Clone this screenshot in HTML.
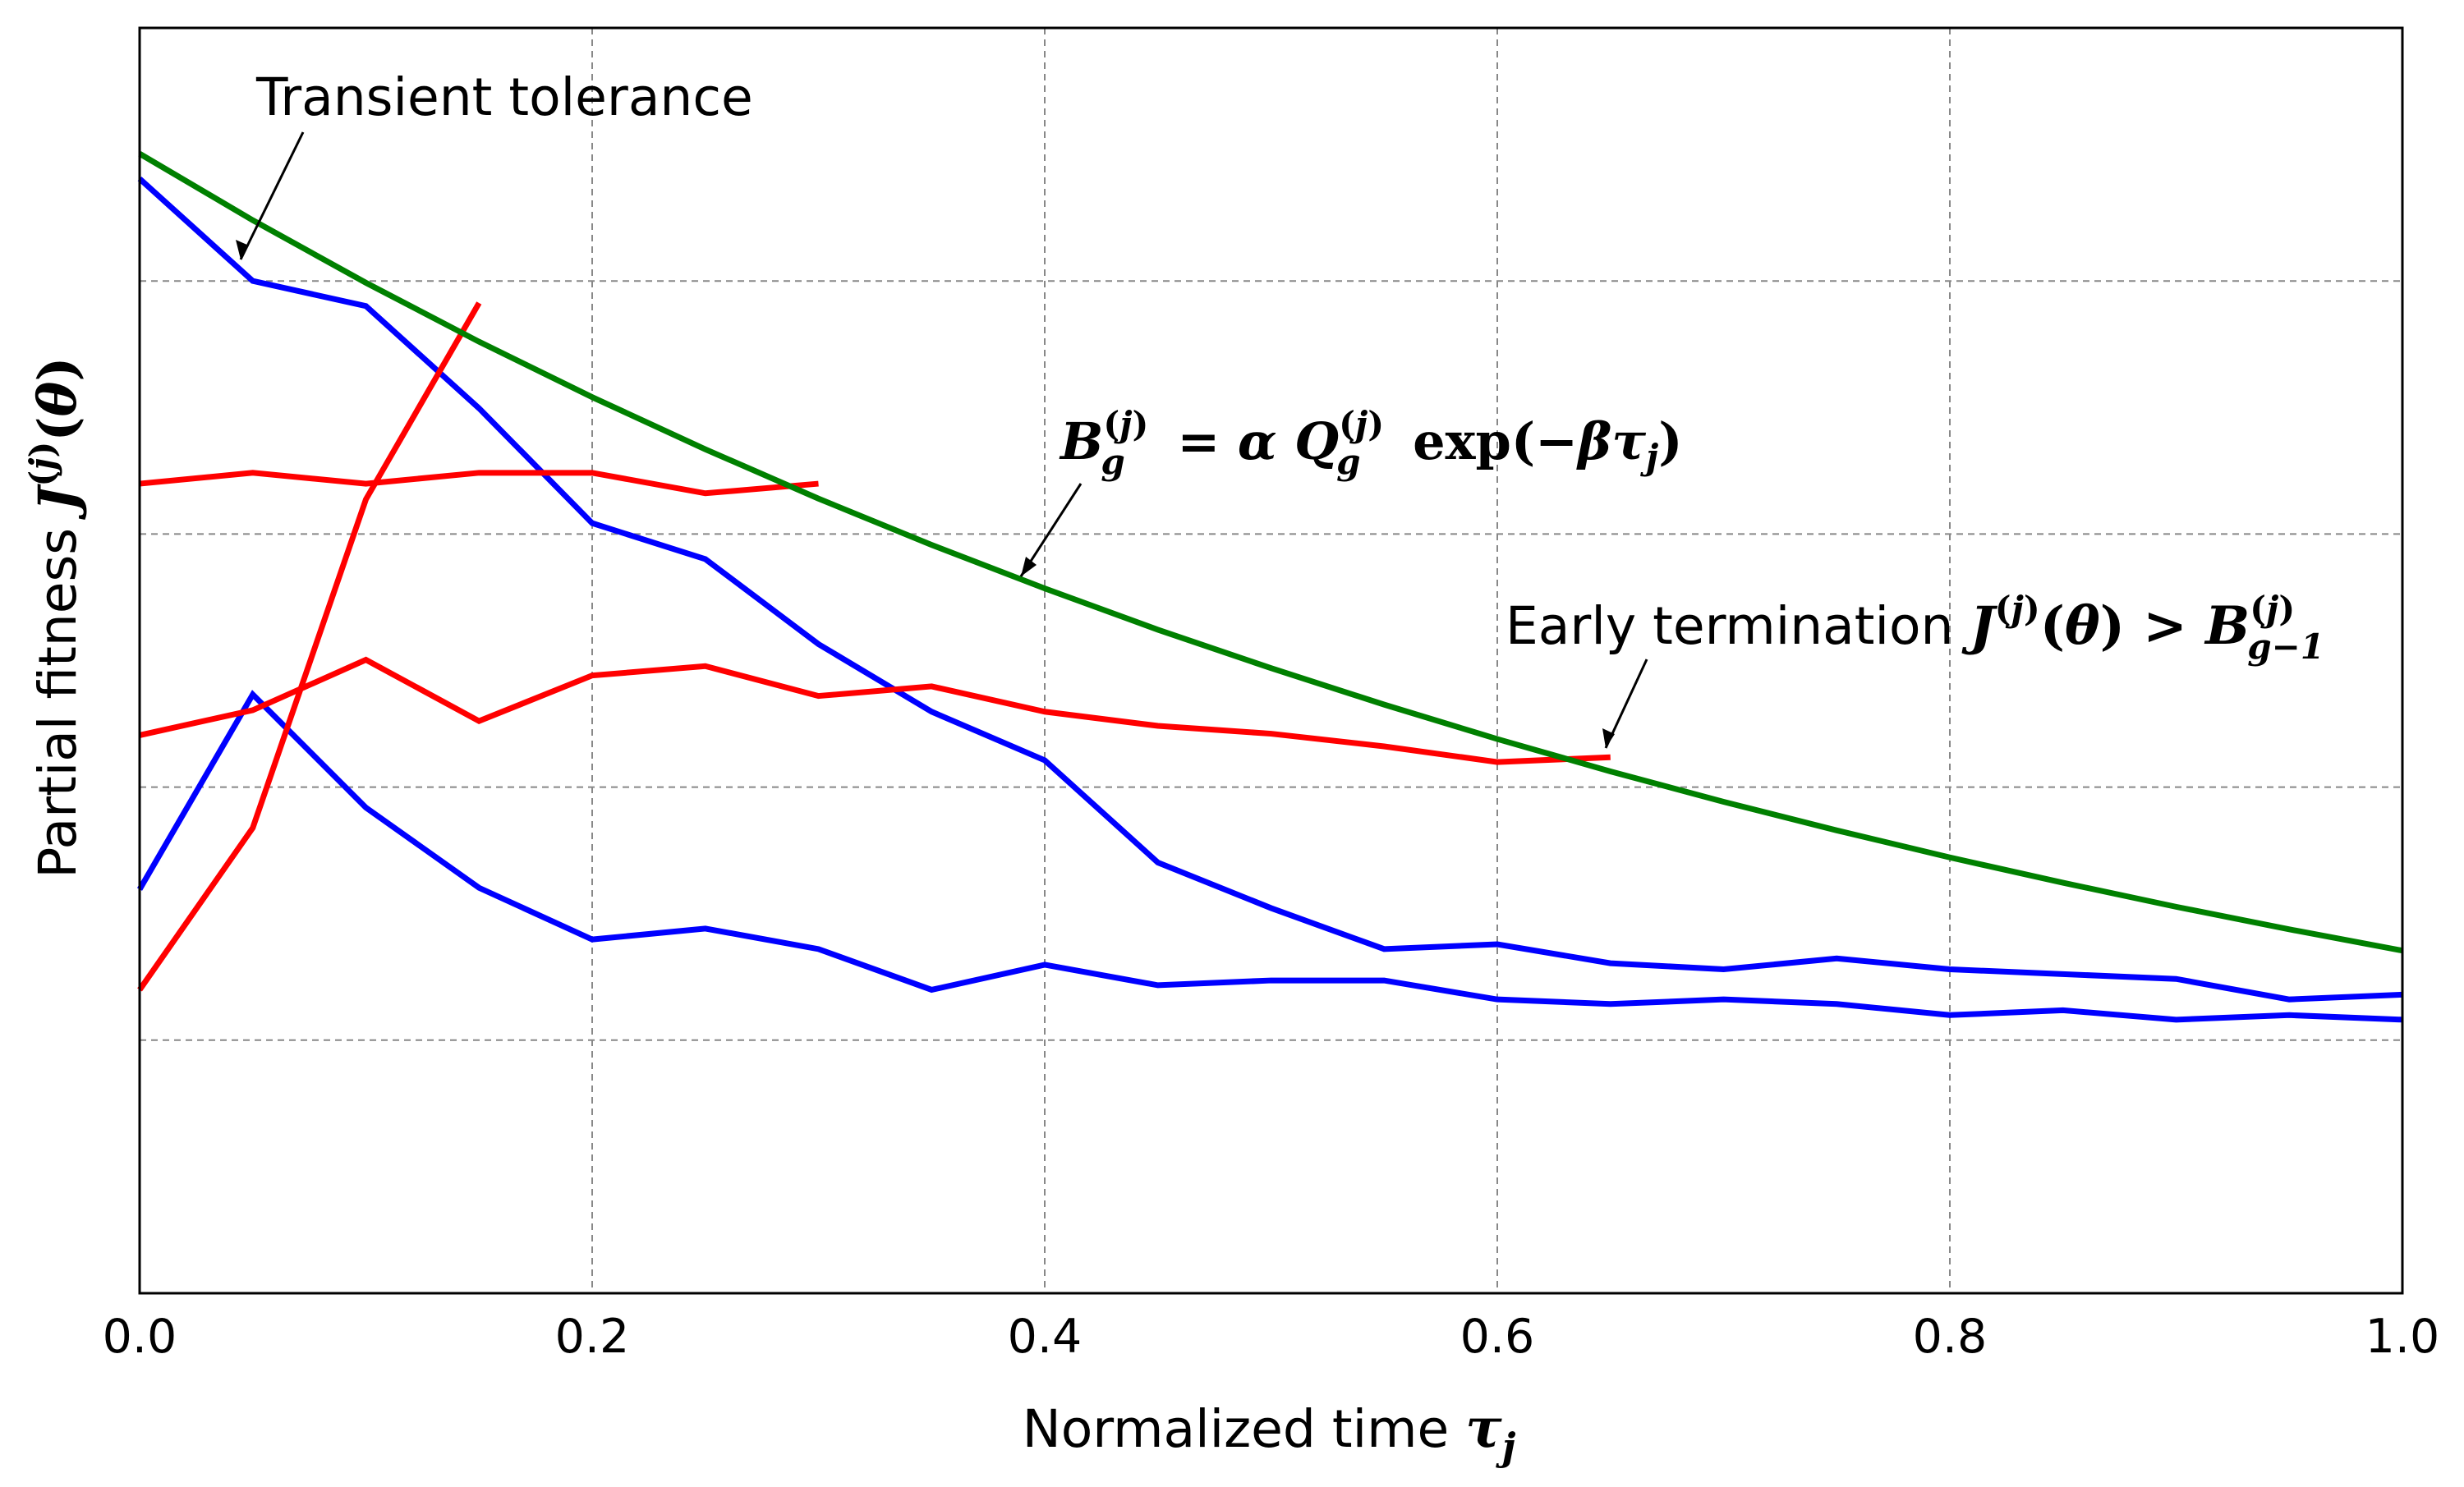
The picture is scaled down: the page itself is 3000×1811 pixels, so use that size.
<!DOCTYPE html>
<html><head><meta charset="utf-8"><style>
html,body{margin:0;padding:0;background:#fff;}
svg{display:block;}
.tick{font-family:"DejaVu Sans","Liberation Sans",sans-serif;font-size:57px;fill:#000;}
.lab{font-family:"DejaVu Sans","Liberation Sans",sans-serif;font-size:63px;fill:#000;}
.m{font-family:"DejaVu Serif","Liberation Serif",serif;font-weight:bold;font-style:italic;}
.mr{font-family:"DejaVu Serif","Liberation Serif",serif;font-weight:bold;}
</style></head><body>
<svg id="chart" width="3000" height="1811" viewBox="0 0 3000 1811">
<g id="grid"></g>
<g id="series"></g>
<rect x="170" y="34" width="2755" height="1541" fill="none" stroke="#000" stroke-width="3"/>
<g id="xticks"></g>
<text class="lab" x="1545" y="1762" text-anchor="middle">Normalized time <tspan class="m" font-size="66">τ</tspan><tspan class="m" font-size="46" dy="16">j</tspan></text>
<text class="lab" transform="translate(92,752) rotate(-90)" text-anchor="middle">Partial fitness  <tspan class="m" font-size="64">J</tspan><tspan class="mr" font-size="42" dy="-26">(</tspan><tspan class="m" font-size="42">j</tspan><tspan class="mr" font-size="42">)</tspan><tspan class="mr" font-size="64" dy="26">(</tspan><tspan class="m" font-size="64">θ</tspan><tspan class="mr" font-size="64">)</tspan></text>
<g>
<text class="lab" x="312" y="140" font-size="65">Transient tolerance</text>
<line x1="369" y1="161" x2="293" y2="316" stroke="#000" stroke-width="3"/>
<path d="M293,316 L287,292 L303,299 z" fill="#000"/>
</g>
<g>
<text x="1291" y="559" font-size="62"><tspan class="m">B</tspan><tspan class="mr" font-size="42" dy="-28">(</tspan><tspan class="m" font-size="42">j</tspan><tspan class="mr" font-size="42">)</tspan><tspan class="m" font-size="42" dx="-58" dy="46">g</tspan><tspan class="mr" dx="42" dy="-18"> = </tspan><tspan class="m">α Q</tspan><tspan class="mr" font-size="42" dy="-28">(</tspan><tspan class="m" font-size="42">j</tspan><tspan class="mr" font-size="42">)</tspan><tspan class="m" font-size="42" dx="-58" dy="46">g</tspan><tspan class="mr" dx="42" dy="-18"> exp(−</tspan><tspan class="m">βτ</tspan><tspan class="m" font-size="42" dy="12">j</tspan><tspan class="mr" dy="-12">)</tspan></text>
<line x1="1316" y1="589" x2="1243" y2="702" stroke="#000" stroke-width="3"/>
<path d="M1243,702 L1249,678 L1262,688 z" fill="#000"/>
</g>
<g>
<text x="1833" y="784" font-size="64"><tspan class="lab" font-size="64">Early termination </tspan><tspan class="m">J</tspan><tspan class="mr" font-size="42" dy="-28">(</tspan><tspan class="m" font-size="42">j</tspan><tspan class="mr" font-size="42">)</tspan><tspan class="mr" dy="28">(</tspan><tspan class="m">θ</tspan><tspan class="mr">) &gt; </tspan><tspan class="m">B</tspan><tspan class="mr" font-size="42" dy="-28">(</tspan><tspan class="m" font-size="42">j</tspan><tspan class="mr" font-size="42">)</tspan><tspan class="m" font-size="42" dx="-58" dy="46">g−1</tspan></text>
<line x1="2005" y1="803" x2="1955" y2="911" stroke="#000" stroke-width="3"/>
<path d="M1955,911 L1951,887 L1966,894 z" fill="#000"/>
</g>
</svg>
<script>
const xTicks = [0.0, 0.2, 0.4, 0.6, 0.8, 1.0];
const xTickLabels = ["0.0", "0.2", "0.4", "0.6", "0.8", "1.0"];
const yGrid = [1, 2, 3, 4];
const tGrid = [0,0.05,0.1,0.15,0.2,0.25,0.3,0.35,0.4,0.45,0.5,0.55,0.6,0.65,0.7,0.75,0.8,0.85,0.9,0.95,1.0];
const greenBound = [4.503,4.240,3.993,3.760,3.541,3.335,3.140,2.957,2.785,2.622,2.470,2.326,2.190,2.062,1.942,1.829,1.722,1.622,1.527,1.438,1.354];
const blueUpper = [4.404,4.000,3.901,3.497,3.043,2.901,2.565,2.298,2.106,1.702,1.522,1.360,1.379,1.304,1.280,1.323,1.280,1.261,1.242,1.161,1.180];
const blueLower = [1.596,2.366,1.919,1.602,1.398,1.441,1.360,1.199,1.298,1.217,1.236,1.236,1.161,1.143,1.161,1.143,1.099,1.118,1.081,1.099,1.081];
const redSteep = [1.199,1.839,3.137,3.913];
const redFlat = [3.199,3.242,3.199,3.242,3.242,3.161,3.199];
const redMid = [2.205,2.304,2.503,2.261,2.441,2.478,2.360,2.398,2.298,2.242,2.211,2.161,2.099,2.118];

const X0=170,X1=2925,Y0=1575,Y1=34,YMAX=5;
function xs(v){return X0+(X1-X0)*v;}
function ys(v){return Y0-(Y0-Y1)*v/YMAX;}
const NS="http://www.w3.org/2000/svg";
const grid=document.getElementById('grid');
xTicks.forEach((t,i)=>{
  if(i>0&&i<xTicks.length-1){
    const l=document.createElementNS(NS,'line');
    l.setAttribute('x1',xs(t));l.setAttribute('x2',xs(t));l.setAttribute('y1',Y1);l.setAttribute('y2',Y0);
    l.setAttribute('stroke','#888');l.setAttribute('stroke-width','2');l.setAttribute('stroke-dasharray','8,6');
    
    
    grid.appendChild(l);
  }
  const tx=document.createElementNS(NS,'text');
  tx.setAttribute('x',xs(t));tx.setAttribute('y',1647);tx.setAttribute('text-anchor','middle');tx.setAttribute('class','tick');
  tx.textContent=xTickLabels[i];
  
  
  document.getElementById('xticks').appendChild(tx);
});
yGrid.forEach(v=>{
  const l=document.createElementNS(NS,'line');
  l.setAttribute('x1',X0);l.setAttribute('x2',X1);l.setAttribute('y1',ys(v));l.setAttribute('y2',ys(v));
  l.setAttribute('stroke','#888');l.setAttribute('stroke-width','2');l.setAttribute('stroke-dasharray','8,6');
  
  
  grid.appendChild(l);
});
const ser=document.getElementById('series');
function line(vals,color,name){
  const p=document.createElementNS(NS,'polyline');
  p.setAttribute('points',vals.map((v,i)=>xs(tGrid[i])+','+ys(v)).join(' '));
  p.setAttribute('fill','none');p.setAttribute('stroke',color);p.setAttribute('stroke-width','7');
  p.setAttribute('stroke-linejoin','miter');
  
  
  ser.appendChild(p);
}
line(blueUpper,'#0000ff','blue-run-upper');
line(blueLower,'#0000ff','blue-run-lower');
line(redSteep,'#ff0000','red-run-steep');
line(redFlat,'#ff0000','red-run-flat');
line(redMid,'#ff0000','red-run-terminated');
line(greenBound,'#008000','green-bound-curve');
</script>
</body></html>
